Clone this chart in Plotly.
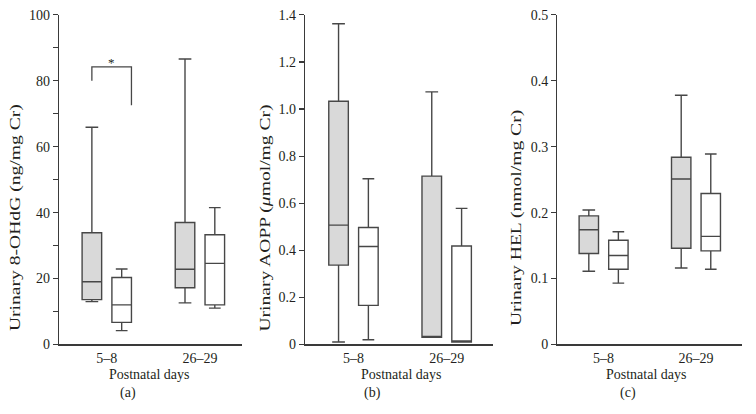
import plotly.graph_objects as go

# ---------------- data ----------------
categories = ["5–8", "26–29"]

# Panel (a): Urinary 8-OHdG (ng/mg Cr)
a_gray_low = [13.0, 12.6]
a_gray_q1 = [13.6, 17.2]
a_gray_med = [19.0, 22.8]
a_gray_q3 = [33.9, 37.0]
a_gray_high = [65.9, 86.6]
a_white_low = [4.2, 11.0]
a_white_q1 = [6.7, 12.0]
a_white_med = [12.0, 24.6]
a_white_q3 = [20.3, 33.3]
a_white_high = [22.9, 41.5]

# Panel (b): Urinary AOPP (umol/mg Cr)
b_gray_low = [0.01, 0.03]
b_gray_q1 = [0.337, 0.03]
b_gray_med = [0.507, 0.03]
b_gray_q3 = [1.033, 0.715]
b_gray_high = [1.362, 1.073]
b_white_low = [0.02, 0.01]
b_white_q1 = [0.166, 0.01]
b_white_med = [0.416, 0.01]
b_white_q3 = [0.497, 0.418]
b_white_high = [0.704, 0.578]

# Panel (c): Urinary HEL (nmol/mg Cr)
c_gray_low = [0.111, 0.116]
c_gray_q1 = [0.138, 0.146]
c_gray_med = [0.174, 0.251]
c_gray_q3 = [0.195, 0.284]
c_gray_high = [0.204, 0.378]
c_white_low = [0.093, 0.114]
c_white_q1 = [0.114, 0.142]
c_white_med = [0.135, 0.164]
c_white_q3 = [0.158, 0.229]
c_white_high = [0.171, 0.289]

a_tickvals = [0, 20, 40, 60, 80, 100]
a_ticktext = ["0", "20", "40", "60", "80", "100"]
a_minor = [10, 30, 50, 70, 90]
b_tickvals = [0, 0.2, 0.4, 0.6, 0.8, 1.0, 1.2, 1.4]
b_ticktext = ["0", "0.2", "0.4", "0.6", "0.8", "1.0", "1.2", "1.4"]
c_tickvals = [0, 0.1, 0.2, 0.3, 0.4, 0.5]
c_ticktext = ["0", "0.1", "0.2", "0.3", "0.4", "0.5"]

y_titles = ["Urinary 8-OHdG (ng/mg Cr)",
            "Urinary AOPP (<i>μ</i>mol/mg Cr)",
            "Urinary HEL (nmol/mg Cr)"]
x_title = "Postnatal days"
panel_labels = ["(a)", "(b)", "(c)"]
sig_mark = "*"
bracket_y = [80.0, 84.2, 72.6]

# ---------------- style ----------------
FONT = "Liberation Serif, Times New Roman, serif"
TXT = "#231f20"
AX = "#3a3a3a"
BOXLINE = "#474747"
GRAY = "#d9d9d9"
WHITE = "#ffffff"
OFFSET = 0.16
BOXW = 0.21

fig = go.Figure()

panels = [
    dict(ax="", data=(a_gray_low, a_gray_q1, a_gray_med, a_gray_q3, a_gray_high,
                     a_white_low, a_white_q1, a_white_med, a_white_q3, a_white_high)),
    dict(ax="2", data=(b_gray_low, b_gray_q1, b_gray_med, b_gray_q3, b_gray_high,
                      b_white_low, b_white_q1, b_white_med, b_white_q3, b_white_high)),
    dict(ax="3", data=(c_gray_low, c_gray_q1, c_gray_med, c_gray_q3, c_gray_high,
                      c_white_low, c_white_q1, c_white_med, c_white_q3, c_white_high)),
]

for p in panels:
    gl, gq1, gm, gq3, gh, wl, wq1, wm, wq3, wh = p["data"]
    for i in range(len(categories)):
        pos = i + 1
        fig.add_trace(go.Box(
            x=[pos - OFFSET], q1=[gq1[i]], median=[gm[i]], q3=[gq3[i]],
            lowerfence=[gl[i]], upperfence=[gh[i]], width=BOXW,
            fillcolor=GRAY, line=dict(color=BOXLINE, width=1.4),
            whiskerwidth=0.65, boxpoints=False, showlegend=False,
            hoverinfo="skip", xaxis="x" + p["ax"], yaxis="y" + p["ax"]))
        fig.add_trace(go.Box(
            x=[pos + OFFSET], q1=[wq1[i]], median=[wm[i]], q3=[wq3[i]],
            lowerfence=[wl[i]], upperfence=[wh[i]], width=BOXW,
            fillcolor=WHITE, line=dict(color=BOXLINE, width=1.4),
            whiskerwidth=0.6, boxpoints=False, showlegend=False,
            hoverinfo="skip", xaxis="x" + p["ax"], yaxis="y" + p["ax"]))

W, H = 756, 414

def fy(y_px):
    # vertical pixel position -> paper fraction (calibrated to the rendered page)
    return 1 - ((y_px - 6.3) / 0.966) / H

x_domains = [[59 / W, 242 / W], [305 / W, 493 / W], [557.3 / W, 742 / W]]
x_ranges = [[0.487, 2.452], [0.480, 2.497], [0.499, 2.498]]
y_domain = [fy(344.5), fy(14.2)]

def xaxis_cfg(i):
    return dict(domain=x_domains[i], range=x_ranges[i], tickmode="array",
                tickvals=[1, 2], ticktext=categories, showline=True,
                linecolor=AX, linewidth=1.3, ticks="", showgrid=False,
                zeroline=False, tickfont=dict(family=FONT, size=14, color=TXT),
                anchor="y" + ("" if i == 0 else str(i + 1)), fixedrange=True)

def yaxis_cfg(i, rng, tv, tt, minor=None):
    d = dict(domain=y_domain, range=rng, tickmode="array", tickvals=tv,
             ticktext=tt, showline=True, linecolor=AX, linewidth=1.3,
             ticks="outside", ticklen=5, tickwidth=1.2, tickcolor=AX,
             showgrid=False, zeroline=False,
             tickfont=dict(family=FONT, size=14, color=TXT),
             anchor="x" + ("" if i == 0 else str(i + 1)), fixedrange=True)
    if minor is not None:
        d["minor"] = dict(tickmode="array", tickvals=minor, ticks="outside",
                          ticklen=5, tickwidth=1.2, tickcolor=AX, showgrid=False)
    return d

fig.update_layout(
    width=W, height=H, margin=dict(l=0, r=0, t=0, b=0),
    paper_bgcolor="white", plot_bgcolor="white",
    xaxis=xaxis_cfg(0), xaxis2=xaxis_cfg(1), xaxis3=xaxis_cfg(2),
    yaxis=yaxis_cfg(0, [0, 100], a_tickvals, a_ticktext, a_minor),
    yaxis2=yaxis_cfg(1, [0, 1.4], b_tickvals, b_ticktext),
    yaxis3=yaxis_cfg(2, [0, 0.5], c_tickvals, c_ticktext),
)

ann = []
ytitle_x = [16.5, 266, 517]
xtitle_x = [149, 401, 646]
plabel_x = [127.5, 372, 628]
for i in range(3):
    ann.append(dict(text=y_titles[i], xref="paper", yref="paper",
                    x=ytitle_x[i] / W, y=fy(218), textangle=-90,
                    showarrow=False, xanchor="center", yanchor="middle",
                    font=dict(family=FONT, size=14, color=TXT)))
    ann.append(dict(text=x_title, xref="paper", yref="paper",
                    x=xtitle_x[i] / W, y=fy(375), showarrow=False,
                    xanchor="center", yanchor="middle",
                    font=dict(family=FONT, size=14, color=TXT)))
    ann.append(dict(text=panel_labels[i], xref="paper", yref="paper",
                    x=plabel_x[i] / W, y=fy(393), showarrow=False,
                    xanchor="center", yanchor="middle",
                    font=dict(family=FONT, size=14, color=TXT)))

# significance bracket in panel (a)
bx_left = 1 - OFFSET
bx_right = 1 + OFFSET + BOXW / 2
fig.add_shape(type="path", xref="x", yref="y",
              path=f"M {bx_left} {bracket_y[0]} L {bx_left} {bracket_y[1]} "
                   f"L {bx_right} {bracket_y[1]} L {bx_right} {bracket_y[2]}",
              line=dict(color=BOXLINE, width=1.3))
ann.append(dict(text=sig_mark, xref="x", yref="y",
                x=(bx_left + bx_right) / 2, y=bracket_y[1], showarrow=False,
                xanchor="center", yanchor="bottom", yshift=-5,
                font=dict(family=FONT, size=13, color=TXT)))
fig.update_layout(annotations=ann)

post = """
document.body.style.margin = '0';
document.body.style.padding = '0';
document.querySelectorAll('text').forEach(function(t){
  if (t.textContent.indexOf('Urinary') === 0) {
    t.style.transformBox = 'fill-box';
    t.style.transformOrigin = 'center';
    t.style.transform = 'scaleX(1.4)';
  }
});
"""
fig.write_html("out.html", post_script=post, config={"staticPlot": True})
